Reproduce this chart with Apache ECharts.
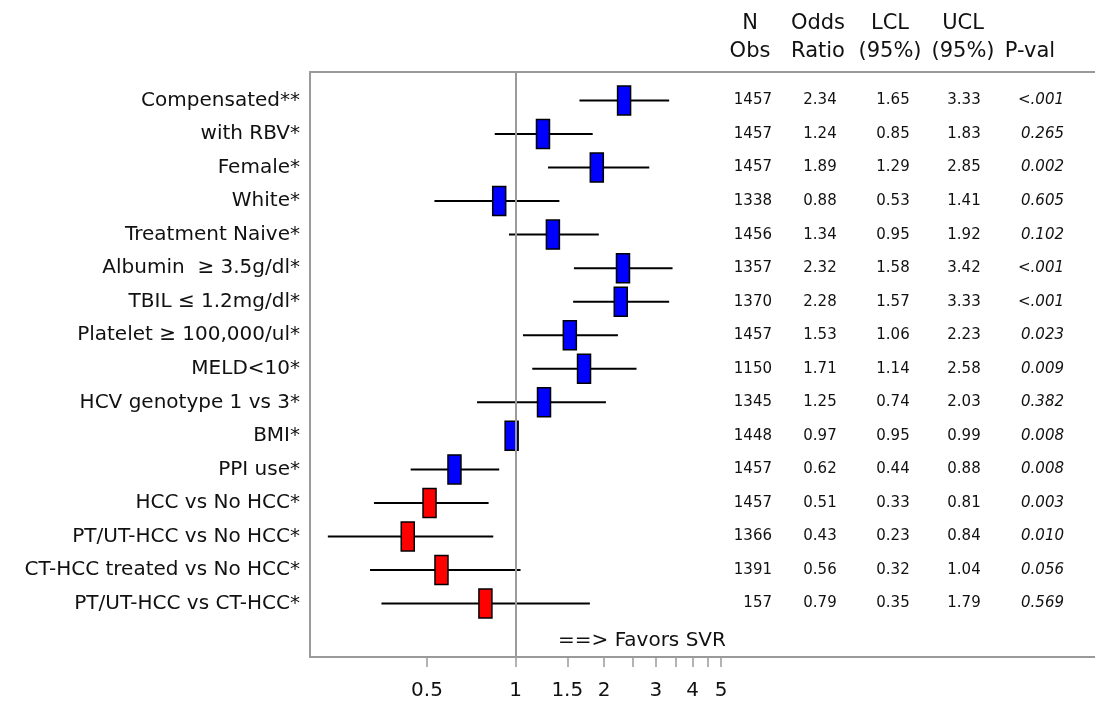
<!DOCTYPE html>
<html>
<head>
<meta charset="utf-8">
<script src="https://cdn.jsdelivr.net/npm/echarts@6/dist/echarts.min.js"></script>
<style>
  html, body { margin: 0; padding: 0; background: #fff; }
  #chart { width: 1095px; height: 701px; }
</style>
</head>
<body>
<div id="chart"></div>
<script>
const labels = [
  "Compensated**",
  "with RBV*",
  "Female*",
  "White*",
  "Treatment Naive*",
  "Albumin  \u2265 3.5g/dl*",
  "TBIL \u2264 1.2mg/dl*",
  "Platelet \u2265 100,000/ul*",
  "MELD<10*",
  "HCV genotype 1 vs 3*",
  "BMI*",
  "PPI use*",
  "HCC vs No HCC*",
  "PT/UT-HCC vs No HCC*",
  "CT-HCC treated vs No HCC*",
  "PT/UT-HCC vs CT-HCC*"
];
const nObs = [1457, 1457, 1457, 1338, 1456, 1357, 1370, 1457, 1150, 1345, 1448, 1457, 1457, 1366, 1391, 157];
const oddsRatio = ["2.34", "1.24", "1.89", "0.88", "1.34", "2.32", "2.28", "1.53", "1.71", "1.25", "0.97", "0.62", "0.51", "0.43", "0.56", "0.79"];
const lcl = ["1.65", "0.85", "1.29", "0.53", "0.95", "1.58", "1.57", "1.06", "1.14", "0.74", "0.95", "0.44", "0.33", "0.23", "0.32", "0.35"];
const ucl = ["3.33", "1.83", "2.85", "1.41", "1.92", "3.42", "3.33", "2.23", "2.58", "2.03", "0.99", "0.88", "0.81", "0.84", "1.04", "1.79"];
const pVal = ["<.001", "0.265", "0.002", "0.605", "0.102", "<.001", "<.001", "0.023", "0.009", "0.382", "0.008", "0.008", "0.003", "0.010", "0.056", "0.569"];
// rows from this index on are the HCC comparisons (red markers)
const firstHccRow = 12;

const tickValues = [0.5, 1, 1.5, 2, 2.5, 3, 3.5, 4, 4.5, 5];
const tickLabels = [0.5, 1, 1.5, 2, 3, 4, 5];
const headers = ["N\nObs", "Odds\nRatio", "LCL\n(95%)", "UCL\n(95%)", "\nP-val"];
const noteText = "==> Favors SVR";

const font = "DejaVu Sans";
const textColor = "#111";
const frameColor = "#9a9a9a";
const xMin = 0.2;
const xMax = 93.5;

const chart = echarts.init(document.getElementById("chart"), null, { renderer: "canvas" });

// x positions of the table header columns (pixels)
const headerX = [750, 818, 890, 963, 1030];

const option = {
  animation: false,
  backgroundColor: "#fff",
  grid: [
    { left: 310, right: 0, top: 72, bottom: 42 },
    { left: 310, right: 0, top: 83.7, bottom: 80.7 }
  ],
  xAxis: [
    {
      type: "log",
      gridIndex: 0,
      position: "bottom",
      min: xMin,
      max: xMax,
      axisLine: { show: true, lineStyle: { color: frameColor, width: 2 } },
      axisTick: {
        show: true,
        customValues: tickValues,
        length: 10,
        lineStyle: { color: frameColor, width: 1.5 }
      },
      axisLabel: {
        show: true,
        customValues: tickLabels,
        margin: 24,
        fontFamily: font,
        fontSize: 20,
        color: textColor
      },
      splitLine: { show: false },
      minorTick: { show: false }
    },
    {
      type: "value",
      gridIndex: 0,
      position: "top",
      min: 0,
      max: 1,
      axisLine: { show: true, onZero: false, lineStyle: { color: frameColor, width: 2 } },
      axisTick: { show: false },
      axisLabel: { show: false },
      splitLine: { show: false }
    },
    {
      type: "log",
      gridIndex: 1,
      min: xMin,
      max: xMax,
      show: false
    }
  ],
  yAxis: [
    {
      type: "value",
      gridIndex: 0,
      min: 0,
      max: 1,
      axisLine: { show: true, lineStyle: { color: frameColor, width: 2 } },
      axisTick: { show: false },
      axisLabel: { show: false },
      splitLine: { show: false }
    },
    {
      type: "category",
      gridIndex: 1,
      inverse: true,
      data: labels,
      axisLine: { show: false },
      axisTick: { show: false },
      splitLine: { show: false },
      axisLabel: {
        margin: 10,
        fontFamily: font,
        fontSize: 20,
        color: textColor
      }
    }
  ],
  graphic: [
    ...headers.map((h, i) => ({
      type: "text",
      x: headerX[i],
      y: 38,
      style: {
        text: h,
        fontFamily: font,
        fontSize: 21,
        lineHeight: 28,
        fill: textColor,
        align: "center",
        verticalAlign: "middle"
      }
    })),
    {
      type: "text",
      x: 558,
      y: 641,
      style: {
        text: noteText,
        fontFamily: font,
        fontSize: 20,
        fill: textColor,
        align: "left",
        verticalAlign: "middle"
      }
    }
  ],
  series: [
    // reference line at OR = 1 across the whole frame
    {
      type: "line",
      xAxisIndex: 0,
      yAxisIndex: 0,
      data: [],
      silent: true,
      markLine: {
        silent: true,
        symbol: "none",
        label: { show: false },
        lineStyle: { color: frameColor, width: 2, type: "solid" },
        data: [{ xAxis: 1 }]
      }
    },
    // confidence intervals and odds ratio markers
    {
      type: "custom",
      xAxisIndex: 2,
      yAxisIndex: 1,
      clip: false,
      silent: true,
      data: labels.map((_, i) => [Number(lcl[i]), Number(ucl[i]), Number(oddsRatio[i]), i]),
      encode: { x: [0, 1, 2], y: 3 },
      renderItem: function (params, api) {
        const idx = api.value(3);
        const lo = api.coord([api.value(0), idx]);
        const hi = api.coord([api.value(1), idx]);
        const mid = api.coord([api.value(2), idx]);
        const fill = idx >= firstHccRow ? "#ff0000" : "#0000ff";
        return {
          type: "group",
          children: [
            {
              type: "line",
              shape: { x1: lo[0], y1: lo[1], x2: hi[0], y2: hi[1] },
              style: { stroke: "#000", lineWidth: 2 }
            },
            {
              type: "rect",
              shape: { x: mid[0] - 6.5, y: mid[1] - 14.5, width: 13, height: 29 },
              style: { fill: fill, stroke: "#000", lineWidth: 1.5 }
            }
          ]
        };
      }
    },
    // statistics table
    {
      type: "custom",
      xAxisIndex: 2,
      yAxisIndex: 1,
      clip: false,
      silent: true,
      data: labels.map((_, i) => [1, i]),
      encode: { x: 0, y: 1 },
      renderItem: function (params, api) {
        const idx = api.value(1);
        const y = api.coord([1, idx])[1];
        const base = { fontFamily: font, fontSize: 15, fill: textColor, verticalAlign: "middle" };
        const cell = (x, text, align, extra) => ({
          type: "text",
          x: x,
          y: y,
          style: Object.assign({}, base, { text: text, align: align }, extra || {})
        });
        return {
          type: "group",
          children: [
            cell(772, String(nObs[idx]), "right"),
            cell(820, oddsRatio[idx], "center"),
            cell(893, lcl[idx], "center"),
            cell(964, ucl[idx], "center"),
            cell(1064, pVal[idx], "right", { fontStyle: "italic" })
          ]
        };
      }
    }
  ]
};

chart.setOption(option);
</script>
</body>
</html>
